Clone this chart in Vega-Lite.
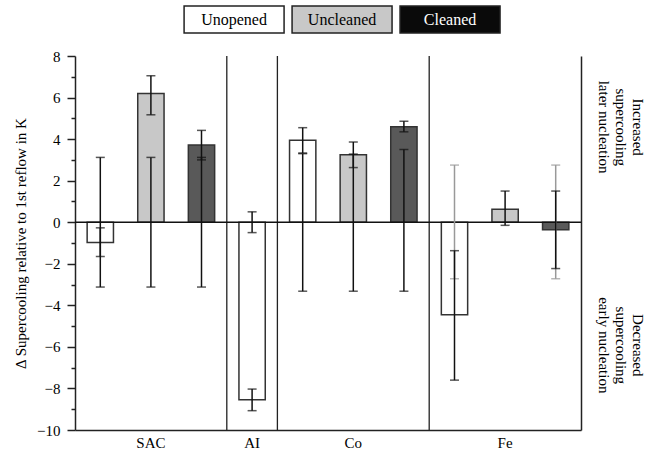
{
  "$schema": "https://vega.github.io/schema/vega-lite/v6.json",
  "padding": {"left": 13, "top": 5, "right": 5, "bottom": 5},
  "spacing": 15,
  "config": {
    "font": "Liberation Serif",
    "view": {"stroke": null},
    "axis": {
      "labelFont": "Liberation Serif",
      "titleFont": "Liberation Serif",
      "labelFontSize": 15,
      "titleFontSize": 15,
      "titleFontWeight": "normal",
      "labelColor": "#000",
      "titleColor": "#000",
      "domainColor": "#222",
      "domainWidth": 1.5,
      "tickColor": "#222",
      "tickWidth": 1.5,
      "grid": false
    }
  },
  "resolve": {"scale": {"color": "independent", "fill": "independent"}},
  "datasets": {
    "legend": [
      {"cond": "Unopened"},
      {"cond": "Uncleaned"},
      {"cond": "Cleaned"}
    ],
    "bars": [
      {"cat": "SAC", "cond": "Unopened", "slot": "SAC|Unopened", "value": -0.97, "lo": -1.65, "hi": -0.27},
      {"cat": "SAC", "cond": "Uncleaned", "slot": "SAC|Uncleaned", "value": 6.2, "lo": 5.17, "hi": 7.05},
      {"cat": "SAC", "cond": "Cleaned", "slot": "SAC|Cleaned", "value": 3.72, "lo": 3.0, "hi": 4.42},
      {"cat": "AI", "cond": "Unopened", "slot": "AI|Unopened", "value": -8.55, "lo": -9.07, "hi": -8.03},
      {"cat": "Co", "cond": "Unopened", "slot": "Co|Unopened", "value": 3.95, "lo": 3.33, "hi": 4.55},
      {"cat": "Co", "cond": "Uncleaned", "slot": "Co|Uncleaned", "value": 3.25, "lo": 2.63, "hi": 3.86},
      {"cat": "Co", "cond": "Cleaned", "slot": "Co|Cleaned", "value": 4.6, "lo": 4.35, "hi": 4.86},
      {"cat": "Fe", "cond": "Unopened", "slot": "Fe|Unopened", "value": -4.45, "lo": -7.6, "hi": -1.37},
      {"cat": "Fe", "cond": "Uncleaned", "slot": "Fe|Uncleaned", "value": 0.62, "lo": -0.15, "hi": 1.5},
      {"cat": "Fe", "cond": "Cleaned", "slot": "Fe|Cleaned", "value": -0.36, "lo": -2.23, "hi": 1.5}
    ],
    "refs": [
      {"cat": "SAC", "slot": "SAC|Unopened", "lo": -3.12, "hi": 3.12},
      {"cat": "SAC", "slot": "SAC|Uncleaned", "lo": -3.12, "hi": 3.12},
      {"cat": "SAC", "slot": "SAC|Cleaned", "lo": -3.12, "hi": 3.12},
      {"cat": "AI", "slot": "AI|Unopened", "lo": -0.5, "hi": 0.5},
      {"cat": "Co", "slot": "Co|Unopened", "lo": -3.32, "hi": 3.3},
      {"cat": "Co", "slot": "Co|Uncleaned", "lo": -3.32, "hi": 3.28},
      {"cat": "Co", "slot": "Co|Cleaned", "lo": -3.32, "hi": 3.5},
      {"cat": "Fe", "slot": "Fe|Unopened", "lo": -2.72, "hi": 2.75},
      {"cat": "Fe", "slot": "Fe|Cleaned", "lo": -2.72, "hi": 2.75}
    ]
  },
  "vconcat": [
    {
      "width": 506,
      "height": 27,
      "data": {"name": "legend"},
      "encoding": {
        "x": {
          "field": "cond",
          "type": "nominal",
          "sort": null,
          "scale": {"domain": ["Unopened", "Uncleaned", "Cleaned"], "paddingInner": 0.074, "paddingOuter": 0.88, "align": 0.574},
          "axis": null
        }
      },
      "layer": [
        {
          "mark": {"type": "bar", "stroke": "#222", "strokeWidth": 1.5},
          "encoding": {
            "fill": {
              "field": "cond",
              "type": "nominal",
              "scale": {"domain": ["Unopened", "Uncleaned", "Cleaned"], "range": ["#ffffff", "#c8c8c8", "#0a0a0a"]},
              "legend": null
            }
          }
        },
        {
          "mark": {"type": "text", "fontSize": 16, "font": "Liberation Serif"},
          "encoding": {
            "text": {"field": "cond"},
            "color": {"condition": {"test": "datum.cond === 'Cleaned'", "value": "#ffffff"}, "value": "#000000"}
          }
        }
      ]
    },
    {
      "width": 506,
      "height": 374,
      "resolve": {"axis": {"y": "independent"}},
      "layer": [
        {
          "data": {"name": "bars"},
          "mark": {"type": "bar", "width": {"band": 0.52}, "stroke": "#333", "strokeWidth": 1.5},
          "encoding": {
            "x": {
              "field": "slot",
              "type": "nominal",
              "sort": null,
              "scale": {
                "domain": ["SAC|Unopened", "SAC|Uncleaned", "SAC|Cleaned", "AI|Unopened", "Co|Unopened", "Co|Uncleaned", "Co|Cleaned", "Fe|Unopened", "Fe|Uncleaned", "Fe|Cleaned"],
                "paddingInner": 0,
                "paddingOuter": 0
              },
              "axis": {
                "title": null,
                "ticks": false,
                "labelAngle": 0,
                "labelPadding": 5,
                "labelExpr": "datum.value === 'SAC|Uncleaned' ? 'SAC' : datum.value === 'AI|Unopened' ? 'AI' : datum.value === 'Co|Uncleaned' ? 'Co' : datum.value === 'Fe|Uncleaned' ? 'Fe' : ''"
              }
            },
            "y": {
              "field": "value",
              "type": "quantitative",
              "scale": {"domain": [-10, 8], "nice": false, "zero": false},
              "axis": {
                "title": "Δ Supercooling relative to 1st reflow in K",
                "titlePadding": 8,
                "values": [-10, -9, -8, -7, -6, -5, -4, -3, -2, -1, 0, 1, 2, 3, 4, 5, 6, 7, 8],
                "labelExpr": "datum.value % 2 === 0 ? datum.label : ''",
                "tickSize": {"condition": {"test": "datum.value % 2 !== 0", "value": 4}, "value": 8},
                "labelPadding": 7
              }
            },
            "fill": {
              "field": "cond",
              "type": "nominal",
              "scale": {"domain": ["Unopened", "Uncleaned", "Cleaned"], "range": ["#ffffff", "#c8c8c8", "#595959"]},
              "legend": null
            }
          }
        },
        {
          "data": {"name": "bars"},
          "transform": [{"filter": "datum.cond === 'Unopened' && datum.cat !== 'SAC'"}],
          "mark": {"type": "rule", "color": "#222", "strokeWidth": 1.3},
          "encoding": {
            "x": {"field": "slot", "type": "nominal", "bandPosition": 0}
          }
        },
        {
          "data": {"values": [{}]},
          "mark": {"type": "rule", "color": "#111", "strokeWidth": 1.5},
          "encoding": {
            "y": {
              "datum": 0,
              "type": "quantitative",
              "axis": {
                "orient": "right",
                "title": null,
                "values": [4.6, -5.9],
                "ticks": false,
                "labelAngle": 90,
                "labelAlign": "center",
                "labelBaseline": "bottom",
                "labelLineHeight": 17,
                "labelPadding": 48,
                "labelFontSize": 15,
                "labelExpr": "datum.value > 0 ? ['Increased', 'supercooling', 'later nucleation'] : ['Decreased', 'supercooling', 'early nucleation']"
              }
            }
          }
        },
        {
          "data": {"name": "refs"},
          "encoding": {
            "x": {"field": "slot", "type": "nominal"},
            "color": {"condition": {"test": "datum.cat === 'Fe'", "value": "#999999"}, "value": "#111111"}
          },
          "layer": [
            {"mark": {"type": "rule", "strokeWidth": 1.5}, "encoding": {"y": {"field": "lo", "type": "quantitative", "axis": null}, "y2": {"field": "hi"}}},
            {"mark": {"type": "tick", "size": 9, "thickness": 1.5}, "encoding": {"y": {"field": "lo", "type": "quantitative", "axis": null}}},
            {"mark": {"type": "tick", "size": 9, "thickness": 1.5}, "encoding": {"y": {"field": "hi", "type": "quantitative", "axis": null}}}
          ]
        },
        {
          "data": {"name": "bars"},
          "encoding": {
            "x": {"field": "slot", "type": "nominal"}
          },
          "layer": [
            {"mark": {"type": "rule", "strokeWidth": 1.5, "color": "#111"}, "encoding": {"y": {"field": "lo", "type": "quantitative", "axis": null}, "y2": {"field": "hi"}}},
            {"mark": {"type": "tick", "size": 9, "thickness": 1.5, "color": "#111"}, "encoding": {"y": {"field": "lo", "type": "quantitative", "axis": null}}},
            {"mark": {"type": "tick", "size": 9, "thickness": 1.5, "color": "#111"}, "encoding": {"y": {"field": "hi", "type": "quantitative", "axis": null}}}
          ]
        }
      ]
    }
  ]
}
